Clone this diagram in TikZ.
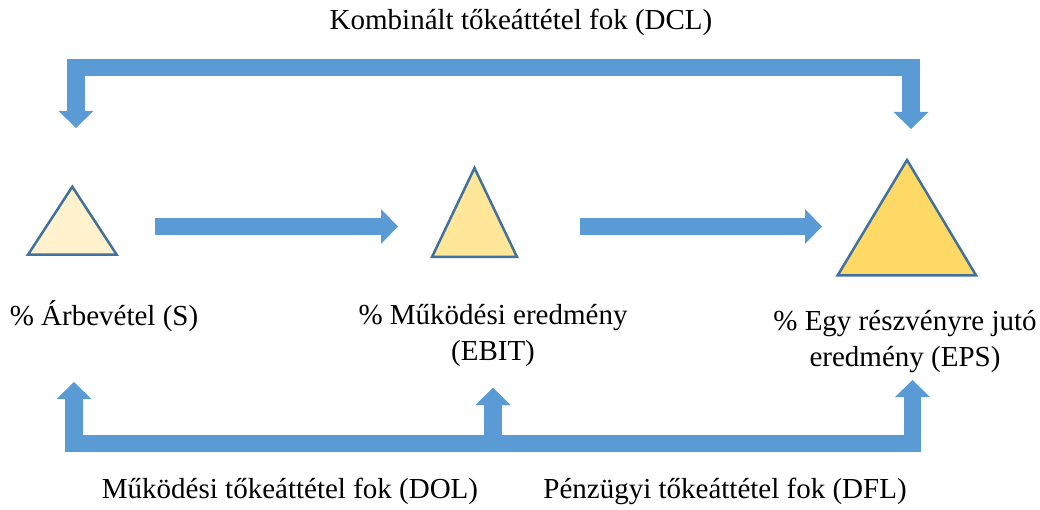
\documentclass[tikz,border=0pt]{standalone}
\usepackage{fontspec}
\setmainfont{Liberation Serif}
\usepackage{xcolor}
\definecolor{arrowBlue}{HTML}{5B9BD5}
\definecolor{triEdge}{HTML}{41719C}
\definecolor{triLight}{HTML}{FFF2CC}
\definecolor{triMid}{HTML}{FFE699}
\definecolor{triDark}{HTML}{FFD966}
\usepackage{tikz}
\usetikzlibrary{arrows.meta,positioning,calc}
\tikzset{
  blockArrow/.style={
    draw=arrowBlue,
    line width=17.5pt,
    line join=miter,
    >={Triangle[length=17pt,width=35pt,line width=0pt]}
 },
  triShape/.style={
    draw=triEdge,
    line width=2.5pt,
    line join=miter
 },
  labelText/.style={
    align=center,
    inner sep=0pt,
    font=\fontsize{29}{36}\selectfont
 }
}
\begin{document}
\begin{tikzpicture}[x=1pt,y=-1pt]
  \useasboundingbox (0,0) rectangle (1040,510);

  % triangles
  \draw[triShape, fill=triLight] (28,254.7) -- (72.3,186.7) -- (116.7,254.7) -- cycle;
  \draw[triShape, fill=triMid] (432,257) -- (474.5,168) -- (517,257) -- cycle;
  \draw[triShape, fill=triDark] (837.7,275.3) -- (907,160) -- (976,275.3) -- cycle;

  % labels
  \node[labelText] (dcl) at (521,22) {Kombinált tőkeáttétel fok (DCL)};
  \node[labelText] (sales) at (104,316) {\% Árbevétel (S)};
  \node[labelText] (ebit) at (493,336) {\% Működési eredmény\\(EBIT)};
  \node[labelText] (eps) at (905,342) {\% Egy részvényre jutó\\eredmény (EPS)};
  \node[labelText] (dol) at (290,491) {Működési tőkeáttétel fok (DOL)};
  \node[labelText] (dfl) at (725,491) {Pénzügyi tőkeáttétel fok (DFL)};

  % arrow ends
  \coordinate (dclS) at (76,128);
  \coordinate (dclEPS) at (911,129);
  \coordinate (dolS) at (74,382);
  \coordinate (dolEBIT) at (493,388);
  \coordinate (dflEPS) at (912.5,380);
  \coordinate (barMid) at (493,443.5);
  \coordinate (sOut) at (155,226.5);
  \coordinate (ebitIn) at (398,226.5);
  \coordinate (ebitOut) at (580,226.5);
  \coordinate (epsIn) at (822,226.5);

  \draw[blockArrow,->] (sOut) -- (ebitIn);
  \draw[blockArrow,->] (ebitOut) -- (epsIn);

  % leverage brackets
  \draw[blockArrow,<->] (dclS) -- ++(0,-60.5) -| (dclEPS);
  \draw[blockArrow,<->] (dolS) |- (barMid) -- (dolEBIT);
  \draw[blockArrow,<->] (dolEBIT) -- (barMid) -| (dflEPS);
\end{tikzpicture}
\end{document}
